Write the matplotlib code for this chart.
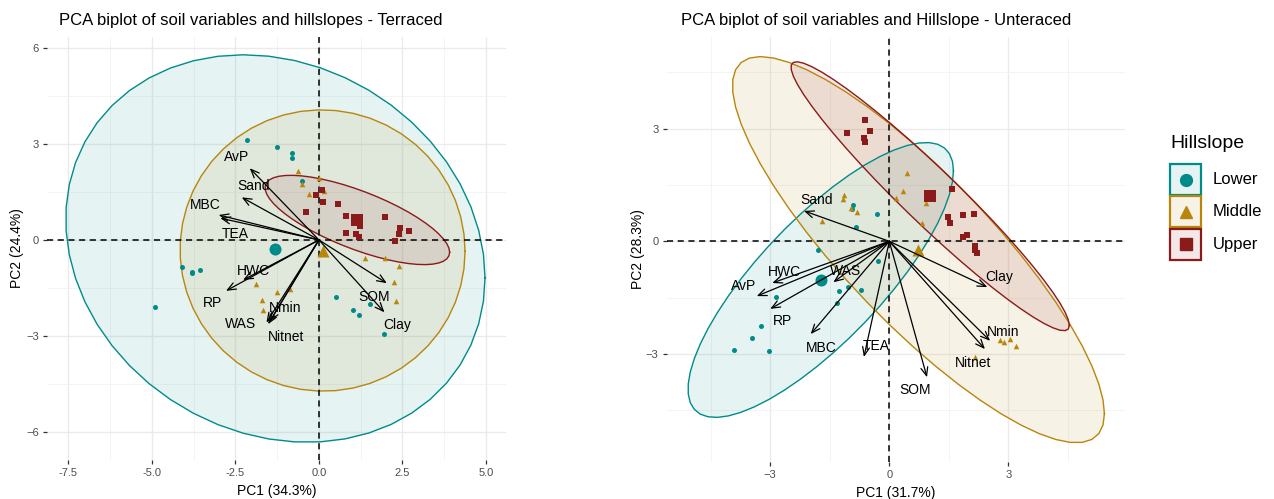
import numpy as np
import matplotlib.pyplot as plt
from matplotlib.patches import Rectangle
from matplotlib.ticker import MultipleLocator

plt.rcParams['font.family'] = ['Liberation Sans', 'DejaVu Sans']

# group colours and markers
groups = ['Lower', 'Middle', 'Upper']
colors = {'Lower': '#008B8B', 'Middle': '#B8860B', 'Upper': '#8B1A1A'}
markers = {'Lower': 'o', 'Middle': '^', 'Upper': 's'}

variables = ['AvP', 'Sand', 'MBC', 'TEA', 'HWC', 'RP', 'WAS', 'Nmin', 'Nitnet', 'SOM', 'Clay']

# ---- Terraced: sample scores (PC1, PC2) ----
ter_lower_x = [-2.16, -1.27, -0.82, -0.80, -0.51, -4.11, -3.81, -3.81, -3.55, -4.90,
               0.51, 1.52, 1.02, 1.19, 1.95]
ter_lower_y = [3.13, 2.90, 2.71, 2.57, 1.84, -0.86, -0.99, -1.04, -0.94, -2.08,
               -1.79, -1.99, -2.19, -2.36, -2.93]
ter_middle_x = [-0.62, 0.00, -0.51, 0.15, -0.30, 1.37, 1.99, 2.40, 2.24, 2.30,
                -1.88, -1.27, -0.87, -1.70, -1.67]
ter_middle_y = [2.16, 1.93, 1.75, 1.53, 1.45, -0.57, -0.57, -0.80, -1.32, -1.90,
                -1.375, -1.625, -1.54, -1.87, -2.20]
ter_upper_x = [-0.10, 0.09, 0.12, 0.58, -0.40, 0.81, 1.98, 1.24, 0.81, 1.11,
               2.43, 2.71, 2.39, 2.28, 1.20]
ter_upper_y = [1.41, 1.56, 1.20, 1.13, 0.86, 0.74, 0.72, 0.43, 0.23, 0.17,
               0.375, 0.28, 0.19, -0.04, 0.10]

# Terraced: variable loadings (arrow tips) and label positions
ter_load_x = [-2.07, -2.31, -3.00, -2.95, -2.27, -2.78, -1.57, -1.47, -1.52, 2.03, 1.96]
ter_load_y = [2.24, 1.33, 0.78, 0.68, -1.25, -1.59, -2.58, -2.55, -2.63, -1.35, -2.26]
ter_lab_x = [-2.46, -1.95, -3.41, -2.51, -1.97, -3.18, -2.34, -1.02, -0.97, 1.65, 2.33]
ter_lab_y = [2.60, 1.67, 1.09, 0.18, -0.96, -1.98, -2.63, -2.13, -3.04, -1.77, -2.66]

# ---- Unterraced: sample scores ----
unt_lower_x = [-0.91, -0.95, -0.32, -0.85, -1.80, -0.28, -1.27, -1.03, -0.72, -1.32,
               -2.85, -3.23, -3.45, -3.91, -3.03]
unt_lower_y = [0.96, 0.85, 0.72, 0.39, -0.24, -0.53, -1.32, -1.23, -1.29, -1.63,
               -1.49, -2.25, -2.58, -2.89, -2.91]
unt_middle_x = [-1.13, -1.16, -0.97, -0.82, -1.69, 0.17, 0.45, 0.34, 0.92, 0.82,
                2.79, 2.89, 3.04, 3.19, 2.17]
unt_middle_y = [1.23, 1.14, 0.89, 0.78, 0.54, 1.16, 1.81, 1.34, 1.03, 0.50,
                -2.63, -2.67, -2.59, -2.78, -3.09]
unt_upper_x = [-0.61, -1.07, -0.49, -0.65, -0.62, 1.59, 1.47, 1.53, 1.85, 2.13,
               1.95, 2.16, 2.16, 2.20, 1.85]
unt_upper_y = [3.22, 2.88, 2.93, 2.75, 2.64, 1.40, 0.65, 0.49, 0.71, 0.72,
               0.18, -0.13, -0.24, -0.31, 0.12]

unt_load_x = [-3.34, -2.15, -1.98, -0.64, -2.95, -3.00, -1.41, 2.54, 2.41, 0.95, 2.47]
unt_load_y = [-1.46, 0.81, -2.47, -3.08, -1.11, -1.80, -1.09, -2.65, -2.87, -3.62, -1.22]
unt_lab_x = [-3.68, -1.83, -1.72, -0.32, -2.64, -2.69, -1.10, 2.87, 2.12, 0.65, 2.77]
unt_lab_y = [-1.18, 1.10, -2.83, -2.79, -0.82, -2.13, -0.78, -2.41, -3.23, -3.97, -0.96]


def norm_ellipse(x, y, level=0.95, segments=51):
    # same construction as ggplot2 stat_ellipse(type = "norm")
    pts = np.column_stack([x, y])
    n = len(pts)
    center = pts.mean(axis=0)
    cov = np.cov(pts, rowvar=False)
    d2 = n - 1
    fq = d2 / 2 * ((1 - level) ** (-2 / d2) - 1)  # qf(level, 2, n-1)
    radius = np.sqrt(2 * fq)
    t = np.linspace(0, 2 * np.pi, segments + 1)
    circle = np.column_stack([np.cos(t), np.sin(t)])
    chol = np.linalg.cholesky(cov).T
    return center + radius * circle @ chol


def biplot(ax, scores, load_x, load_y, lab_x, lab_y, title, pc1, pc2,
           xlim, ylim, xmaj, ymaj, title_x, ylabelpad):
    ax.set_facecolor('white')
    for s in ax.spines.values():
        s.set_visible(False)
    ax.set_xlim(*xlim)
    ax.set_ylim(*ylim)
    ax.xaxis.set_major_locator(MultipleLocator(xmaj))
    ax.yaxis.set_major_locator(MultipleLocator(ymaj))
    ax.xaxis.set_minor_locator(MultipleLocator(xmaj / 2))
    ax.yaxis.set_minor_locator(MultipleLocator(ymaj / 2))
    ax.grid(which='major', color='#EBEBEB', lw=1.0, zorder=0)
    ax.grid(which='minor', color='#F2F2F2', lw=0.6, zorder=0)
    ax.tick_params(which='major', length=3, width=0.9, color='#333333',
                   labelsize=8, labelcolor='#4D4D4D', pad=3)
    ax.tick_params(which='minor', length=0)
    ax.set_axisbelow(True)

    for g in groups:
        x, y = scores[g]
        e = norm_ellipse(x, y)
        ax.fill(e[:, 0], e[:, 1], color=colors[g], alpha=0.1, lw=0, zorder=1)
        ax.plot(e[:, 0], e[:, 1], color=colors[g], lw=1.0, zorder=2)

    ax.axhline(0, color='black', lw=1.1, ls=(0, (4, 3)), zorder=3)
    ax.axvline(0, color='black', lw=1.1, ls=(0, (4, 3)), zorder=3)

    for g in groups:
        x, y = scores[g]
        ax.scatter(x, y, s=13 if g != 'Middle' else 16, marker=markers[g],
                   color=colors[g], lw=0, zorder=4)
        ax.scatter([np.mean(x)], [np.mean(y)], s=75, marker=markers[g],
                   color=colors[g], lw=0, zorder=4)

    for i, v in enumerate(variables):
        ax.annotate('', xy=(load_x[i], load_y[i]), xytext=(0, 0),
                    arrowprops=dict(arrowstyle='->,head_length=0.6,head_width=0.25',
                                    color='black', lw=0.9, shrinkA=0, shrinkB=0),
                    zorder=5)
        ax.text(lab_x[i], lab_y[i], v, ha='center', va='center', fontsize=10,
                color='black', zorder=6)

    ax.set_xlabel(pc1, fontsize=10, labelpad=4)
    ax.set_ylabel(pc2, fontsize=10, labelpad=ylabelpad)
    fig.text(title_x, 1 - 20 / 499, title, fontsize=12, ha='left', va='center')


fig = plt.figure(figsize=(12.74, 4.99), dpi=100)
ax1 = fig.add_axes([47 / 1274, 1 - 460 / 499, 459 / 1274, 423 / 499])
ax2 = fig.add_axes([666.7 / 1274, 1 - 461.7 / 499, 458.3 / 1274, 425 / 499])

ter_scores = {'Lower': (ter_lower_x, ter_lower_y),
              'Middle': (ter_middle_x, ter_middle_y),
              'Upper': (ter_upper_x, ter_upper_y)}
unt_scores = {'Lower': (unt_lower_x, unt_lower_y),
              'Middle': (unt_middle_x, unt_middle_y),
              'Upper': (unt_upper_x, unt_upper_y)}

biplot(ax1, ter_scores, ter_load_x, ter_load_y, ter_lab_x, ter_lab_y,
       'PCA biplot of soil variables and hillslopes - Terraced',
       'PC1 (34.3%)', 'PC2 (24.4%)', (-8.14, 5.60), (-6.875, 6.34), 2.5, 3,
       59 / 1274, 1.5)
biplot(ax2, unt_scores, unt_load_x, unt_load_y, unt_lab_x, unt_lab_y,
       'PCA biplot of soil variables and Hillslope - Unteraced',
       'PC1 (31.7%)', 'PC2 (28.3%)', (-5.61, 5.94), (-5.87, 5.45), 3, 3,
       681 / 1274, 0.5)
ax1.set_xticks([-7.5, -5.0, -2.5, 0.0, 2.5, 5.0])
ax1.set_xticklabels(['-7.5', '-5.0', '-2.5', '0.0', '2.5', '5.0'])

# legend drawn by hand in a pixel-space overlay (keys are square, stacked)
lg = fig.add_axes([0, 0, 1, 1])
lg.set_xlim(0, 1274)
lg.set_ylim(499, 0)
lg.axis('off')
lg.text(1170, 143, 'Hillslope', fontsize=14, ha='left', va='center')
key = 31
for i, g in enumerate(groups):
    top = 164 + i * 32.3
    lg.add_patch(Rectangle((1170, top), key, key, facecolor='white', edgecolor='none'))
    lg.add_patch(Rectangle((1170, top), key, key, facecolor=colors[g], alpha=0.1,
                           edgecolor='none'))
    lg.add_patch(Rectangle((1170, top), key, key, facecolor='none', edgecolor=colors[g],
                           lw=1.6))
    lg.plot(1170 + key / 2, top + key / 2, marker=markers[g], color=colors[g],
            markersize=8.5, ls='')
    lg.text(1213, top + key / 2, g, fontsize=12, ha='left', va='center')

fig.savefig('out.png', dpi=100)
